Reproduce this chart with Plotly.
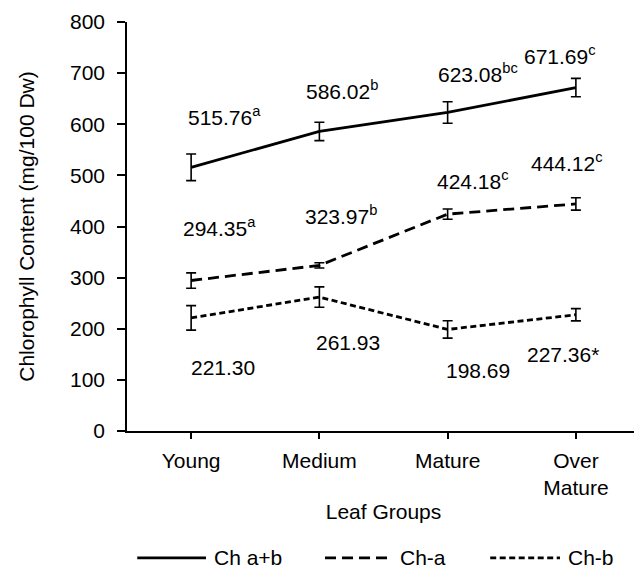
import plotly.graph_objects as go

categories = ["Young", "Medium", "Mature", "Over<br>Mature"]

ch_ab = [515.76, 586.02, 623.08, 671.69]
ch_ab_err = [26, 18, 21, 18]
ch_ab_labels = ["515.76<sup>a</sup>", "586.02<sup>b</sup>", "623.08<sup>bc</sup>", "671.69<sup>c</sup>"]

ch_a = [294.35, 323.97, 424.18, 444.12]
ch_a_err = [15, 5, 10, 12]
ch_a_labels = ["294.35<sup>a</sup>", "323.97<sup>b</sup>", "424.18<sup>c</sup>", "444.12<sup>c</sup>"]

ch_b = [221.30, 261.93, 198.69, 227.36]
ch_b_err = [24, 20, 17, 12]
ch_b_labels = ["221.30", "261.93", "198.69", "227.36*"]

# label placement (x offset from category, y in data units) - hand placed like in Excel
ab_pos = [(0.26, 616), (0.18, 667), (0.24, 701), (-0.12, 736)]
a_pos = [(0.22, 399), (0.17, 423), (0.20, 491), (-0.07, 526)]
b_pos = [(0.25, 125), (0.22, 174), (0.24, 119), (-0.10, 149)]

series_names = ["Ch a+b", "Ch-a", "Ch-b"]
dashes = ["solid", "11px,6px", "6px,3.5px"]
# hand-drawn legend below the chart (paper coords): line start, line end
legend_x = [(0.02, 0.154), (0.386, 0.517), (0.708, 0.844)]
legend_y = -0.31

font = "Liberation Sans, Arial, sans-serif"
fsize = 21
x = list(range(len(categories)))

fig = go.Figure()

for vals, errs, name, dash in zip([ch_ab, ch_a, ch_b], [ch_ab_err, ch_a_err, ch_b_err],
                                  series_names, dashes):
    fig.add_trace(go.Scatter(
        x=x, y=vals, name=name, mode="lines",
        line=dict(color="black", width=2.8, dash=dash),
        error_y=dict(type="data", array=errs, visible=True,
                     color="black", thickness=1.6, width=5),
    ))

for labels, pos in [(ch_ab_labels, ab_pos), (ch_a_labels, a_pos), (ch_b_labels, b_pos)]:
    for i, (lab, (dx, yy)) in enumerate(zip(labels, pos)):
        fig.add_annotation(x=i + dx, y=yy, text=lab, showarrow=False,
                           font=dict(family=font, size=fsize, color="black"))

# legend
for name, dash, (x0, x1) in zip(series_names, dashes, legend_x):
    fig.add_shape(type="line", xref="paper", yref="paper", x0=x0, x1=x1,
                  y0=legend_y, y1=legend_y,
                  line=dict(color="black", width=2.8, dash=dash))
    fig.add_annotation(xref="paper", yref="paper", x=x1 + 0.012, y=legend_y,
                       text=name, showarrow=False, xanchor="left", yanchor="middle",
                       font=dict(family=font, size=fsize, color="black"))

# page body has an 8px margin, so the figure is a bit smaller than the window
fig.update_layout(
    width=634, height=561,
    paper_bgcolor="white", plot_bgcolor="white",
    margin=dict(l=119, r=2, t=14, b=138),
    font=dict(family=font, size=fsize, color="black"),
    showlegend=False,
)

fig.update_xaxes(
    range=[-0.5, 3.5], tickvals=x + [3.5], ticktext=categories + [""],
    showline=True, linecolor="black", linewidth=1.5,
    ticks="outside", ticklen=6, tickcolor="black", tickwidth=1.5,
    ticklabelstandoff=4,
    showgrid=False, zeroline=False,
    title=dict(text="Leaf Groups", font=dict(size=fsize), standoff=6),
)
fig.update_yaxes(
    range=[0, 800], dtick=100,
    showline=True, linecolor="black", linewidth=1.5,
    ticks="outside", ticklen=8, tickcolor="black", tickwidth=1.5,
    ticklabelstandoff=8,
    showgrid=False, zeroline=False,
    title=dict(text="Chlorophyll Content (mg/100 Dw)", font=dict(size=fsize), standoff=30),
)

fig.write_html("out.html")
